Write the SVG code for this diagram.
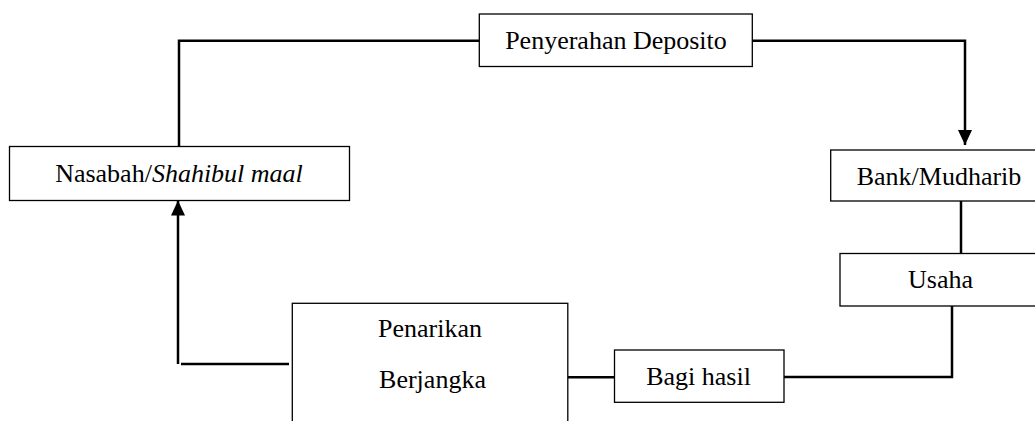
<svg xmlns="http://www.w3.org/2000/svg" width="1035" height="421" viewBox="0 0 1035 421">
<style>
.box{fill:#fff;stroke:#000;stroke-width:1.3}
.lbl{font-family:"Liberation Serif","Times New Roman",serif;font-size:26px;fill:#000;text-anchor:middle}
.con{fill:none;stroke:#000;stroke-width:2.5}
</style>
<defs>
<marker id="arr" markerUnits="userSpaceOnUse" markerWidth="16" markerHeight="16" viewBox="0 0 16 16" refX="15" refY="8" orient="auto">
<path d="M0 1 L15 8 L0 15 Z" fill="#000"/>
</marker>
</defs>
<rect width="1035" height="421" fill="#fff"/>
<g id="connectors">
<path class="con" d="M179 146.5 V40.7 H479"/>
<path class="con" d="M752 40.7 H965 V145" marker-end="url(#arr)"/>
<path class="con" d="M961 201 V253.5"/>
<path class="con" d="M952 306 V377 H784"/>
<path class="con" d="M568 377.3 H615"/>
<path class="con" d="M289 364 H181"/>
<path class="con" d="M178 364 V200.5" marker-end="url(#arr)"/>
</g>
<g id="penyerahan">
<rect class="box" x="479.3" y="14" width="273" height="52.5"/>
<text class="lbl" x="616" y="48.5">Penyerahan Deposito</text>
</g>
<g id="nasabah">
<rect class="box" x="9.5" y="146.5" width="340" height="54"/>
<text class="lbl" x="179" y="182">Nasabah/<tspan font-style="italic">Shahibul maal</tspan></text>
</g>
<g id="bank">
<rect class="box" x="830.7" y="150" width="216" height="51"/>
<text class="lbl" x="939" y="184.5">Bank/Mudharib</text>
</g>
<g id="usaha">
<rect class="box" x="840" y="253.5" width="202" height="52.5"/>
<text class="lbl" x="940.5" y="288">Usaha</text>
</g>
<g id="bagihasil">
<rect class="box" x="614.5" y="350" width="169.5" height="52.3"/>
<text class="lbl" x="698.5" y="385">Bagi hasil</text>
</g>
<g id="penarikan">
<rect class="box" x="292.3" y="303.3" width="275.5" height="140"/>
<text class="lbl" x="430" y="337.3">Penarikan</text>
<text class="lbl" x="432.5" y="388.3">Berjangka</text>
</g>
</svg>
